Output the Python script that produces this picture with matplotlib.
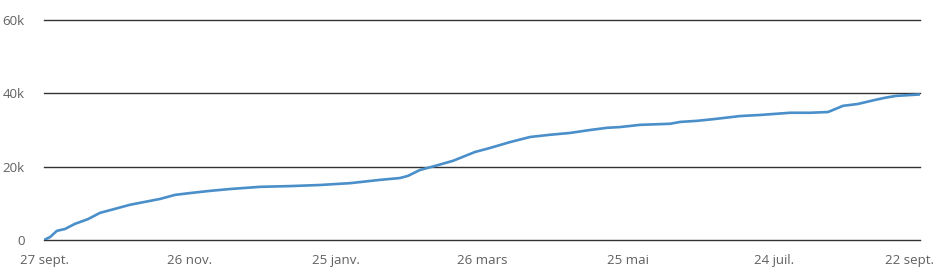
import matplotlib
matplotlib.use('Agg')
import matplotlib.pyplot as plt
from matplotlib.transforms import ScaledTranslation

# days since 27 sept. and cumulative totals
days = [0, 2.5, 5.3, 8.6, 12.7, 18.1, 23, 29.2, 35.3, 41.5, 47.7, 53.8, 60,
        68.2, 76.4, 88.8, 101.1, 113.4, 125.8, 138.1, 146.3, 149.6, 154.5,
        160.7, 168.1, 177.1, 183.3, 191.5, 199.8, 208, 216.2, 224.4, 231.4,
        236.7, 244.9, 257.3, 261.4, 268.4, 275.7, 286, 294.3, 306.6, 314.8,
        322.2, 328.4, 334.5, 341.5, 345.7, 350.2, 360]
values = [0, 800, 2500, 3000, 4400, 5700, 7400, 8500, 9600, 10400, 11200,
          12300, 12800, 13400, 13900, 14500, 14700, 15000, 15500, 16400,
          16900, 17500, 19100, 20200, 21600, 24000, 25100, 26700, 28100,
          28700, 29200, 30000, 30600, 30800, 31400, 31700, 32200, 32500,
          33000, 33800, 34100, 34700, 34700, 34900, 36600, 37100, 38200,
          38800, 39300, 39700]

tick_days = [0, 60, 120, 180, 240, 300, 360]
tick_labels = ['27 sept.', '26 nov.', '25 janv.', '26 mars', '25 mai',
               '24 juil.', '22 sept.']
y_ticks = [0, 20000, 40000, 60000]
y_labels = ['0', '20k', '40k', '60k']

plt.rcParams['font.family'] = ['Open Sans', 'DejaVu Sans']

fig = plt.figure(figsize=(9.42, 2.74), dpi=100)
ax = fig.add_axes([44 / 942, 34 / 274, 876 / 942, 220 / 274])

ax.plot(days, values, color='#4a8fc9', lw=1.9, solid_joinstyle='round', zorder=3)

ax.set_xlim(0, 360)
ax.set_ylim(0, 60000)
ax.set_xticks(tick_days)
ax.set_xticklabels(tick_labels)
ax.set_yticks(y_ticks)
ax.set_yticklabels(y_labels)

ax.grid(axis='y', color='#333333', lw=1)
for gl in ax.get_ygridlines():
    gl.set_clip_on(False)
ax.set_axisbelow(True)
for s in ax.spines.values():
    s.set_visible(False)
ax.tick_params(length=0, labelsize=9.5, labelcolor='#606060')
ax.tick_params(axis='x', pad=10)
ax.tick_params(axis='y', pad=14)

# shift last label left so it stays inside the figure
last = ax.get_xticklabels()[-1]
last.set_transform(last.get_transform() + ScaledTranslation(-11 / 100, 0, fig.dpi_scale_trans))

fig.savefig('out.png', dpi=100)
